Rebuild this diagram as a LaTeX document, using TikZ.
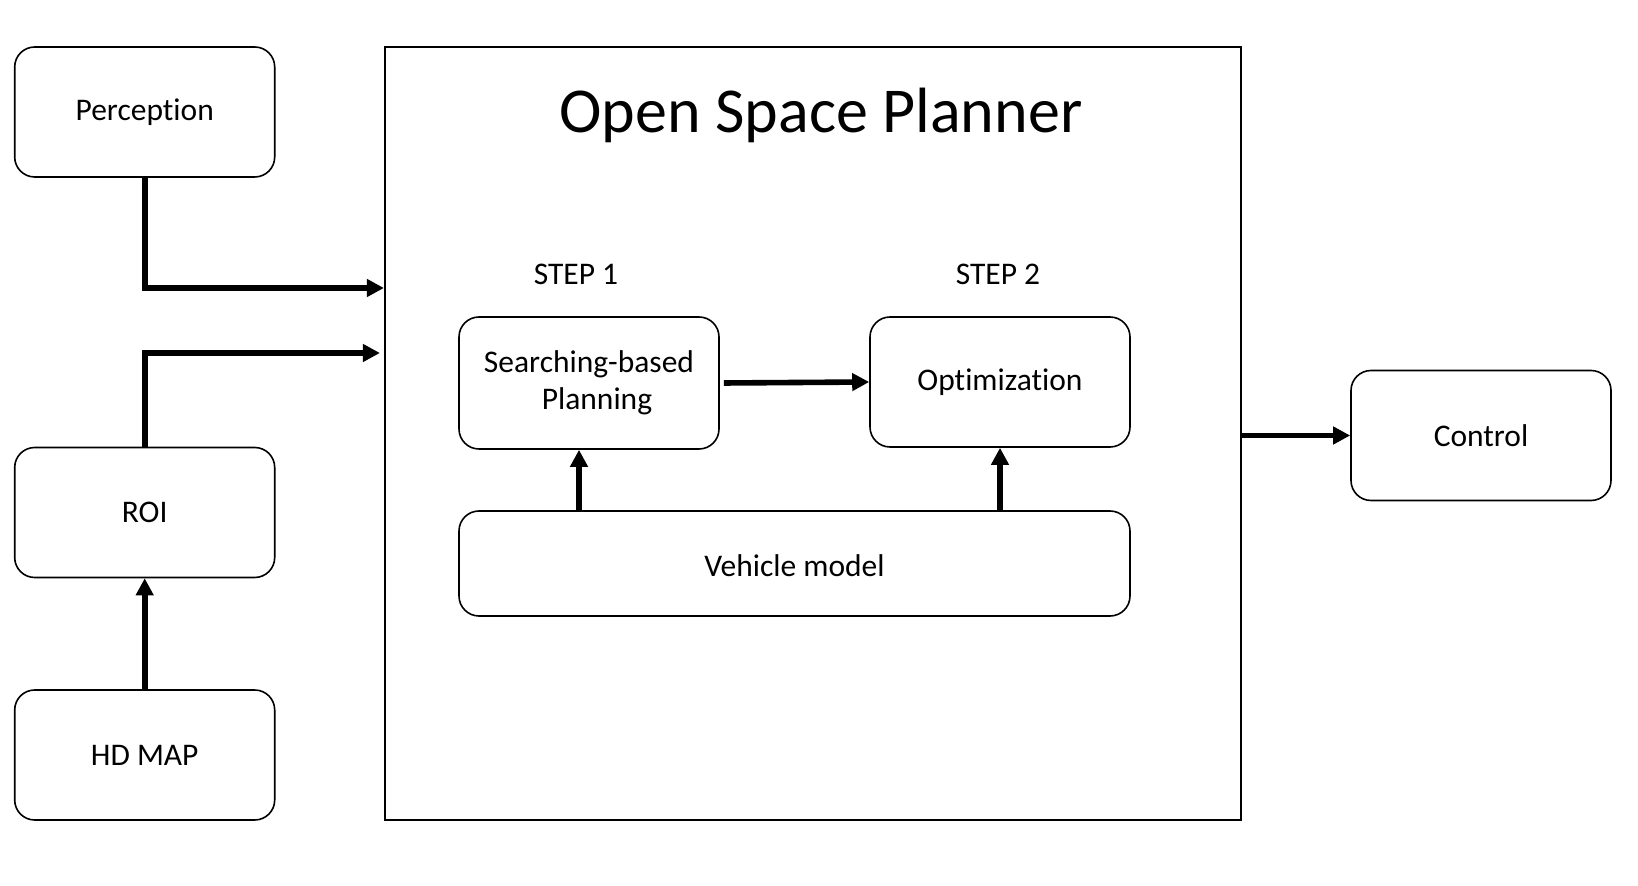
\documentclass[tikz,border=0pt]{standalone}
\usepackage{fontspec}
\setmainfont{Carlito}[RawFeature={-liga;-clig;-dlig;-calt}]
\usetikzlibrary{arrows.meta}

\tikzset{
  block/.style={draw, thick, rounded corners=10pt, minimum width=130pt, minimum height=65pt, align=center, font=\fontsize{15.75}{18.3}\selectfont},
  flow/.style={line width=2.8pt, -{Triangle[length=8.5pt, width=8.5pt]}}
}

\begin{document}
\begin{tikzpicture}[x=0.5pt, y=-0.5pt]
	  \useasboundingbox (0,0) rectangle (1638,886);
	  % inputs
	  \node[block] (perc) at (144.7,112) {Perception};
	  \node[block] (roi) at (144.7,512.5) {ROI};
	  \node[block] (hdmap) at (144.7,755) {HD MAP};
	  % planner
	  \node[draw, thick, minimum width=428.25pt, minimum height=386.5pt] (osp) at (813,433.5) {};
	  \node[font=\fontsize{32}{38}\selectfont] (title) at (821,115) {Open Space Planner};
	  \node[font=\fontsize{15.75}{18.3}\selectfont] (step1) at (576,274) {STEP 1};
	  \node[font=\fontsize{15.75}{18.3}\selectfont] (step2) at (998,274) {STEP 2};
	  \node[block, minimum height=66pt] (search) at (589,383) {Searching-based\\ \hspace{8pt}Planning};
	  \node[block] (opt) at (1000,382) {Optimization};
	  \node[block, minimum width=335.5pt, minimum height=52.5pt, text height=1.3em] (veh) at (794.5,563.5) {Vehicle model};
	  % output
	  \node[block] (ctrl) at (1481,435.5) {Control};
	  % arrows
	  \draw[flow] (perc.south) |- (osp.west |- 0,288);
	  \draw[flow] (roi.north) |- ([xshift=-2pt]osp.west |- 0,353);
	  \draw[flow] (hdmap.north) -- (roi.south);
	  \draw[flow] ([xshift=2pt]search.east) -- (opt.west);
	  \draw[flow] ([xshift=-5pt]search.south |- veh.north) -- ([xshift=-5pt]search.south);
	  \draw[flow] (opt.south |- veh.north) -- (opt.south);
	  \draw[flow] (osp.east |- ctrl.west) -- (ctrl.west);
	\end{tikzpicture}
\end{document}
